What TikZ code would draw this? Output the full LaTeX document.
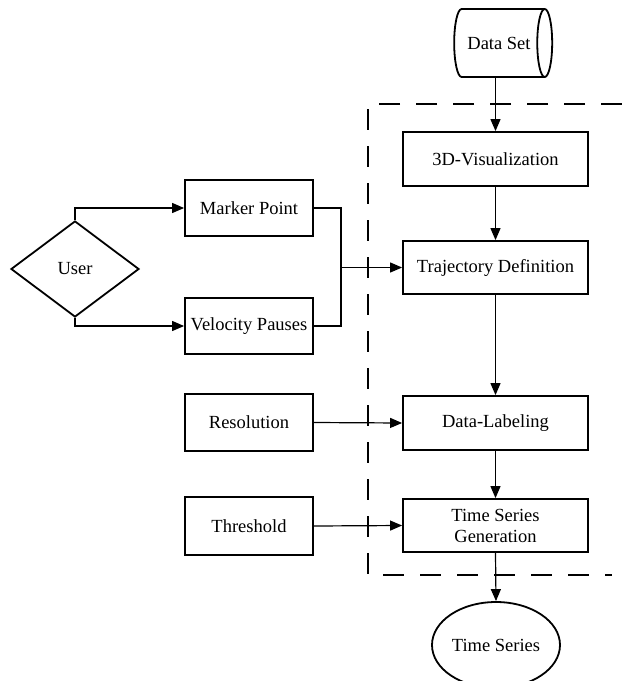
\documentclass[tikz,border=0pt]{standalone}
\usepackage{fontspec}
\setmainfont{Liberation Serif}
\usetikzlibrary{shapes.geometric,arrows.meta}
\begin{document}
\begin{tikzpicture}[x=1pt,y=-1pt,
 every node/.style={font=\fontsize{18.5}{21}\selectfont},
 box/.style={draw,line width=1.8pt,minimum width=128pt,minimum height=56pt,inner sep=0pt},
 pbox/.style={draw,line width=1.8pt,minimum width=185pt,minimum height=54pt,inner sep=0pt,align=center},
 conn/.style={line width=1.2pt,-{Triangle[length=12pt,width=10pt]}},
 plain/.style={line width=1.2pt}]
\useasboundingbox (0,0) rectangle (622,681);

\draw[line width=1.6pt,dash pattern=on 21pt off 16pt] (622,104) -- (368,104) -- (368,575) -- (612,575);

\node[draw,cylinder,line width=1.8pt,aspect=1.2,minimum width=68pt,minimum height=98pt,inner sep=0pt] (ds) at (499,43) {Data Set};
\node[pbox] (vis) at (495.5,159) {3D-Visualization};
\node[pbox,minimum height=53pt] (traj) at (495.5,267.5) {Trajectory Definition};
\node[pbox] (lab) at (495.5,423) {Data-Labeling};
\node[pbox,minimum height=53pt] (tsg) at (495.5,525.5) {Time Series\\Generation};
\node[draw,ellipse,line width=1.8pt,minimum width=128pt,minimum height=86pt,inner sep=0pt] (ts) at (496,645) {Time Series};

\node[draw,diamond,aspect=1.33,line width=1.8pt,minimum width=128pt,minimum height=96pt,inner sep=0pt] (user) at (75,269) {User};
\node[box] (mp) at (249,208) {Marker Point};
\node[box] (vp) at (249,326) {Velocity Pauses};
\node[box,minimum height=57pt] (res) at (249,422.5) {Resolution};
\node[box,minimum height=58pt] (thr) at (249,526) {Threshold};

\draw[conn] (ds.south -| vis.north) -- (vis.north);
\draw[conn] (vis.south) -- (traj.north);
\draw[conn] (traj.south) -- (lab.north);
\draw[conn] (lab.south) -- (tsg.north);
\draw[conn] (tsg.south) -- (ts.north);

\draw[conn] (user.north) |- (mp.west);
\draw[conn] (user.south) |- (vp.west);
\coordinate (j) at (341,267.5);
\draw[plain] (mp.east) -| (j) |- (vp.east);
\draw[conn] (j) -- (traj.west);
\draw[conn] (res.east) -- (lab.west);
\draw[conn] (thr.east) -- (tsg.west);
\end{tikzpicture}
\end{document}
